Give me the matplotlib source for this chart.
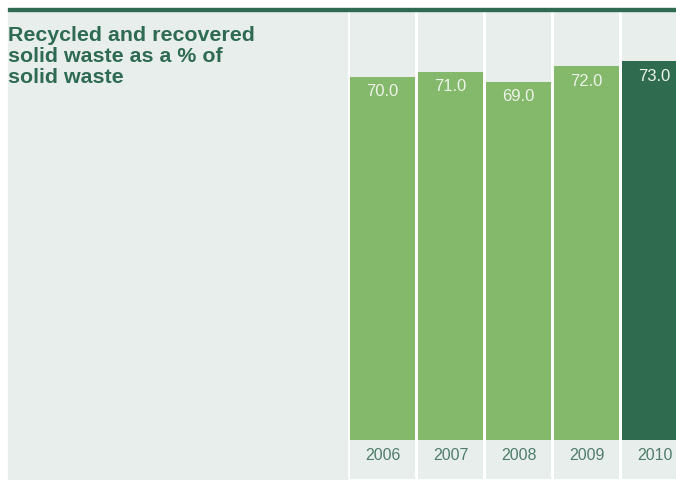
import matplotlib
matplotlib.use("Agg")
import matplotlib.pyplot as plt
from matplotlib.patches import Rectangle

years = ["2006", "2007", "2008", "2009", "2010"]
values = [70.0, 71.0, 69.0, 72.0, 73.0]
title = "Recycled and recovered\nsolid waste as a % of\nsolid waste"

LIGHT = "#84B86A"
DARK = "#2E6B4F"
PANEL = "#E8EEEC"
TEXT_GREEN = "#2E6B52"

W, H = 676, 481
fig = plt.figure(figsize=(W / 100, H / 100), dpi=100, facecolor="white")
plt.rcParams["font.family"] = ["Liberation Sans", "DejaVu Sans"]


def fx(px):
    return px / W


def fy(py):
    return 1 - py / H


# left panel background and top rule
fig.patches.append(Rectangle((fx(8), fy(480)), fx(347 - 8), (480 - 12) / H,
                             transform=fig.transFigure, color=PANEL, zorder=0))
fig.patches.append(Rectangle((fx(8), fy(12)), 1 - fx(8), 3 / H,
                             transform=fig.transFigure, color=TEXT_GREEN, zorder=2))

fig.text(fx(8), fy(26), title, ha="left", va="top", fontsize=15.4,
         fontweight="bold", color=TEXT_GREEN, linespacing=1.12)

# bar area: columns are 68 px apart, value 0 sits at y=441 px
col = 68.0
left_px, top_px, bottom_px, zero_px = 348.5, 12, 480, 441
scale = 5.19
ax = fig.add_axes([fx(left_px), fy(bottom_px), fx(W - left_px), (bottom_px - top_px) / H])
ax.set_xlim(-0.5, (W - left_px) / col - 0.5)
ax.set_ylim(-(bottom_px - zero_px) / scale, (zero_px - top_px) / scale)
ax.set_facecolor("white")
for s in ax.spines.values():
    s.set_visible(False)
ax.set_xticks([])
ax.set_yticks([])

x = range(len(years))
ymin, ymax = ax.get_ylim()
bw = 65 / col
ax.bar(x, [ymax - ymin] * len(years), bottom=ymin, width=bw, color=PANEL, zorder=1)
colors = [LIGHT] * (len(years) - 1) + [DARK]
ax.bar(x, values, width=bw, color=colors, zorder=2)

for i, v in enumerate(values):
    ax.text(i, v - 14 / scale, f"{v:.1f}", ha="center", va="center",
            fontsize=12, color="#EEF4EA", zorder=3)
    ax.text(i, -14 / scale, years[i], ha="center", va="center",
            fontsize=11.5, color="#4F7D6B", zorder=3)

fig.savefig("out.png", dpi=100, facecolor="white")
